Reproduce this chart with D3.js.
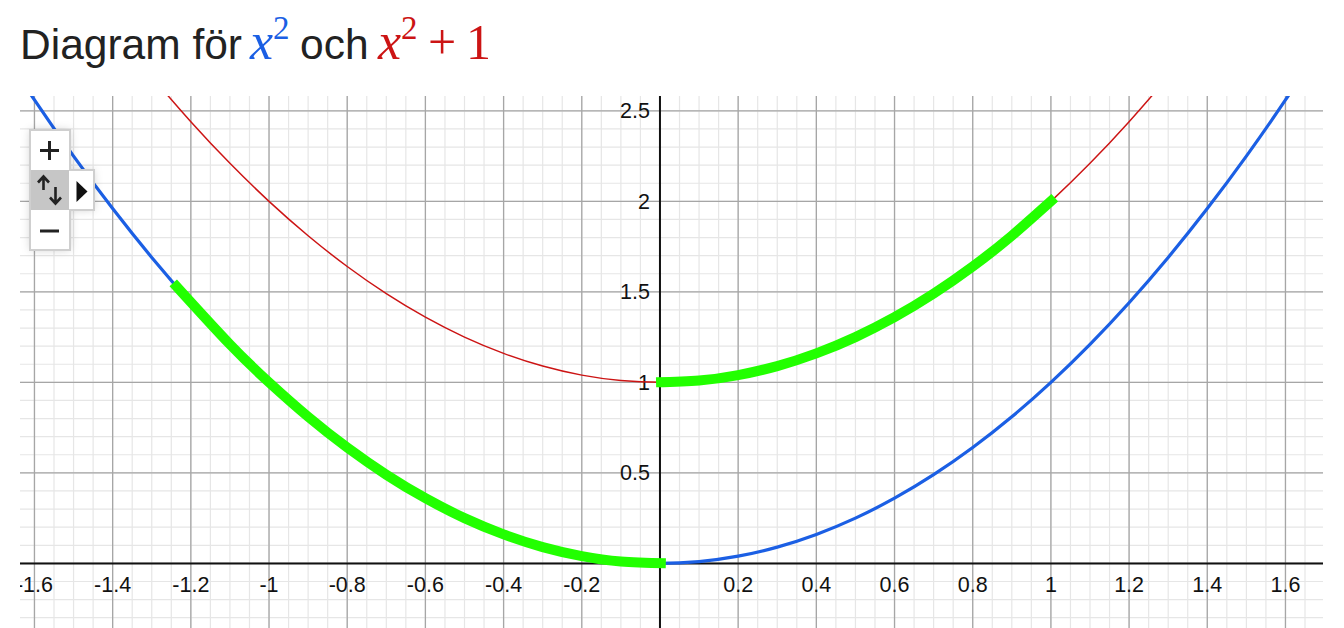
<!DOCTYPE html>
<html><head><meta charset="utf-8">
<script src="https://cdn.jsdelivr.net/npm/d3@7"></script>
<style>html,body{margin:0;padding:0;background:#fff;}svg{display:block;}</style>
</head><body>
<svg id="c" width="1344" height="628"></svg>
<script>
// ---- data ----
const xSamples = [-1.7,-1.6,-1.5,-1.4,-1.3,-1.2,-1.1,-1.0,-0.9,-0.8,-0.7,-0.6,-0.5,-0.4,-0.3,-0.2,-0.1,0,0.1,0.2,0.3,0.4,0.5,0.6,0.7,0.8,0.9,1.0,1.1,1.2,1.3,1.4,1.5,1.6,1.7];
const blueY = [2.89,2.56,2.25,1.96,1.69,1.44,1.21,1.00,0.81,0.64,0.49,0.36,0.25,0.16,0.09,0.04,0.01,0,0.01,0.04,0.09,0.16,0.25,0.36,0.49,0.64,0.81,1.00,1.21,1.44,1.69,1.96,2.25,2.56,2.89];
const redY  = [3.89,3.56,3.25,2.96,2.69,2.44,2.21,2.00,1.81,1.64,1.49,1.36,1.25,1.16,1.09,1.04,1.01,1,1.01,1.04,1.09,1.16,1.25,1.36,1.49,1.64,1.81,2.00,2.21,2.44,2.69,2.96,3.25,3.56,3.89];
const green1X = [-1.245,-1.1,-1.0,-0.9,-0.8,-0.7,-0.6,-0.5,-0.4,-0.3,-0.2,-0.1,0.015];
const green1Y = [1.55,1.21,1.00,0.81,0.64,0.49,0.36,0.25,0.16,0.09,0.04,0.01,0.0002];
const green2X = [-0.01,0.1,0.2,0.3,0.4,0.5,0.6,0.7,0.8,0.9,1.01];
const green2Y = [1.0001,1.01,1.04,1.09,1.16,1.25,1.36,1.49,1.64,1.81,2.02];
const xTickLabels = ["-1.6","-1.4","-1.2","-1","-0.8","-0.6","-0.4","-0.2","0.2","0.4","0.6","0.8","1","1.2","1.4","1.6"];
const xTickValues = [-1.6,-1.4,-1.2,-1,-0.8,-0.6,-0.4,-0.2,0.2,0.4,0.6,0.8,1,1.2,1.4,1.6];
const yTickLabels = ["0.5","1","1.5","2","2.5"];
const yTickValues = [0.5,1,1.5,2,2.5];

const svg = d3.select("#c");
const L = 20, R = 1323, T = 96, B = 628;
const x = d3.scaleLinear().domain([-1.637, 1.696]).range([L, R]);
const y = d3.scaleLinear().domain([-0.357, 2.582]).range([B, T]);

const defs = svg.append("defs");
defs.append("clipPath").attr("id","plot")
  .append("rect").attr("x",L).attr("y",T).attr("width",R-L).attr("height",B-T);
const f = defs.append("filter").attr("id","sh").attr("x","-50%").attr("y","-50%").attr("width","200%").attr("height","200%");
f.append("feDropShadow").attr("dx",0).attr("dy",0).attr("stdDeviation",4).attr("flood-color","#000").attr("flood-opacity",0.18);

const g = svg.append("g").attr("clip-path","url(#plot)");

// minor grid
const minorX = d3.range(-33, 35).map(i => i*0.05);
const minorY = d3.range(-4, 26).map(i => i*0.1);
g.selectAll(".mx").data(minorX).join("line")
  .attr("x1", d=>x(d)).attr("x2", d=>x(d)).attr("y1",T).attr("y2",B)
  .attr("stroke","#e6e6e6").attr("stroke-width",1.2);
g.selectAll(".my").data(minorY).join("line")
  .attr("y1", d=>y(d)).attr("y2", d=>y(d)).attr("x1",L).attr("x2",R)
  .attr("stroke","#e6e6e6").attr("stroke-width",1.2);
// major grid
const majorX = d3.range(-8, 9).map(i => i*0.2);
const majorY = d3.range(0, 6).map(i => i*0.5);
g.selectAll(".Mx").data(majorX).join("line")
  .attr("x1", d=>x(d)).attr("x2", d=>x(d)).attr("y1",T).attr("y2",B)
  .attr("stroke","#a6a6a6").attr("stroke-width",1.3);
g.selectAll(".My").data(majorY).join("line")
  .attr("y1", d=>y(d)).attr("y2", d=>y(d)).attr("x1",L).attr("x2",R)
  .attr("stroke","#a6a6a6").attr("stroke-width",1.3);
// axes
g.append("line").attr("x1",L).attr("x2",R).attr("y1",y(0)).attr("y2",y(0)).attr("stroke","#111").attr("stroke-width",2);
g.append("line").attr("x1",x(0)).attr("x2",x(0)).attr("y1",T).attr("y2",B).attr("stroke","#111").attr("stroke-width",2);

// tick labels
g.selectAll(".xl").data(xTickValues).join("text")
  .attr("x", d=>x(d)).attr("y", y(0)+29).attr("text-anchor","middle")
  .attr("font-family","Liberation Sans, Arial, sans-serif").attr("font-size",21.5).attr("fill","#111")
  .text((d,i)=>xTickLabels[i]);
g.selectAll(".yl").data(yTickValues).join("text")
  .attr("x", x(0)-10).attr("y", d=>y(d)+7.5).attr("text-anchor","end")
  .attr("font-family","Liberation Sans, Arial, sans-serif").attr("font-size",21.5).attr("fill","#111")
  .text((d,i)=>yTickLabels[i]);

// curves
const line = d3.line().x(d=>x(d[0])).y(d=>y(d[1])).curve(d3.curveNatural);
const pts = (xs, ys) => xs.map((v,i)=>[v, ys[i]]);
g.append("path").attr("d", line(pts(xSamples, redY))).attr("fill","none").attr("stroke","#cc1414").attr("stroke-width",1.5);
g.append("path").attr("d", line(pts(xSamples, blueY))).attr("fill","none").attr("stroke","#1b5fe4").attr("stroke-width",3.2);
g.append("path").attr("d", line(pts(green1X, green1Y))).attr("fill","none").attr("stroke","#22ff00").attr("stroke-width",10);
g.append("path").attr("d", line(pts(green2X, green2Y))).attr("fill","none").attr("stroke","#22ff00").attr("stroke-width",10);

// zoom widget
const w = svg.append("g");
w.append("rect").attr("x",30).attr("y",130).attr("width",40).attr("height",120).attr("fill","#fff").attr("filter","url(#sh)");
w.append("rect").attr("x",70).attr("y",170).attr("width",24).attr("height",40).attr("fill","#fff").attr("filter","url(#sh)");
w.append("rect").attr("x",30).attr("y",130).attr("width",40).attr("height",120).attr("fill","#fff").attr("stroke","#cfcfcf").attr("stroke-width",2);
w.append("rect").attr("x",31).attr("y",170).attr("width",38).attr("height",40).attr("fill","#c6c6c6");
w.append("rect").attr("x",70).attr("y",170).attr("width",24).attr("height",40).attr("fill","#fff").attr("stroke","#cfcfcf").attr("stroke-width",2);
w.append("rect").attr("x",69).attr("y",171).attr("width",3).attr("height",38).attr("fill","#fff");
w.append("path").attr("d","M40,150.5H59M49.5,141V160").attr("stroke","#222").attr("stroke-width",3);
w.append("path").attr("d","M40,231H59").attr("stroke","#222").attr("stroke-width",3);
w.append("path").attr("d","M43.5,190V177M38,182.5L43.5,176.5L49,182.5").attr("stroke","#222").attr("stroke-width",2.6).attr("fill","none");
w.append("path").attr("d","M55.5,187V203M50,197.5L55.5,203.5L61,197.5").attr("stroke","#222").attr("stroke-width",2.6).attr("fill","none");
w.append("path").attr("d","M76.5,181L87.5,191.5L76.5,202Z").attr("fill","#111");

// title
const t = svg.append("g");
const sans = "Liberation Sans, Arial, sans-serif", serif = "Liberation Serif, Times New Roman, serif";
t.append("text").attr("x",20).attr("y",59).attr("font-family",sans).attr("font-size",42.5).attr("fill","#222").text("Diagram för");
t.append("text").attr("x",250).attr("y",59).attr("font-family",serif).attr("font-style","italic").attr("font-size",52).attr("fill","#1b5fe4").text("x");
t.append("text").attr("x",273).attr("y",39).attr("font-family",serif).attr("font-size",33).attr("fill","#1b5fe4").text("2");
t.append("text").attr("x",300).attr("y",59).attr("font-family",sans).attr("font-size",42.5).attr("fill","#222").text("och");
t.append("text").attr("x",378).attr("y",59).attr("font-family",serif).attr("font-style","italic").attr("font-size",52).attr("fill","#cc1414").text("x");
t.append("text").attr("x",401).attr("y",39).attr("font-family",serif).attr("font-size",33).attr("fill","#cc1414").text("2");
t.append("text").attr("x",428).attr("y",59).attr("font-family",serif).attr("font-size",50).attr("fill","#cc1414").text("+");
t.append("text").attr("x",466).attr("y",59).attr("font-family",serif).attr("font-size",50).attr("fill","#cc1414").text("1");
</script>
</body></html>
